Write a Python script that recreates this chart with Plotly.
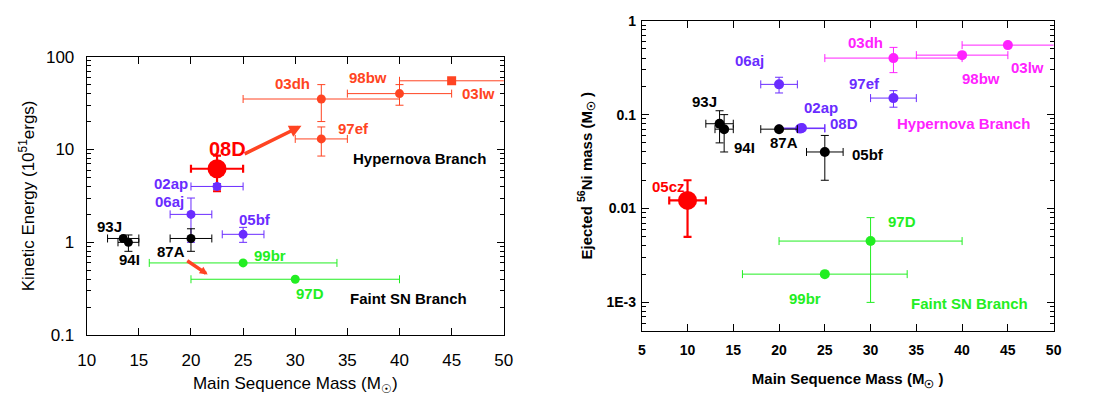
import math
import plotly.graph_objects as go

# ---------------- data: left panel (kinetic energy) ----------------
ke_names = ["03lw", "98bw", "03dh", "97ef", "08D", "02ap", "06aj", "05bf",
            "87A", "93J", "94I", "99br", "97D"]
ke_mass = [45, 40, 32.5, 32.5, 22.5, 22.5, 20, 25, 20, 13.5, 14, 25, 30]
ke_mass_lo = [40, 35, 25, 30, 20, 20, 18, 23, 18, 12, 13, 16, 20]
ke_mass_hi = [55, 45, 40, 35, 25, 25, 22, 27, 22, 15, 15, 34, 40]
ke_E = [55, 40, 35, 13, 6.2, 4.0, 2.0, 1.22, 1.1, 1.1, 1.0, 0.6, 0.4]
ke_E_lo = [55, 30, 20, 8.5, 3.55, 3.7, 1.0, 1.0, 0.8, 1.1, 0.8, 0.6, 0.4]
ke_E_hi = [55, 50, 50, 17.5, 8.6, 4.3, 3.0, 1.45, 1.4, 1.1, 1.2, 0.6, 0.4]
ke_group = ["hn", "hn", "hn", "hn", "new", "blue", "blue", "blue",
            "black", "black", "black", "faint", "faint"]

# ---------------- data: right panel (Ni mass) ----------------
ni_names = ["03lw", "98bw", "03dh", "06aj", "97ef", "02ap", "08D", "87A",
            "93J", "94I", "05bf", "05cz", "97D", "99br"]
ni_mass = [45, 40, 32.5, 20, 32.5, 22.5, 22.3, 20, 13.5, 14, 25, 10, 30, 25]
ni_mass_lo = [40, 35, 25, 18, 30, 20, 20, 18, 12, 13, 23, 8, 20, 16]
ni_mass_hi = [55, 45, 40, 22, 35, 25, 25, 22, 15, 15, 27, 12, 40, 34]
ni_M = [0.55, 0.43, 0.40, 0.21, 0.15, 0.072, 0.071, 0.07, 0.08, 0.07, 0.04, 0.0122, 0.0045, 0.002]
ni_M_lo = [0.55, 0.43, 0.28, 0.17, 0.12, 0.072, 0.071, 0.07, 0.05, 0.04, 0.02, 0.005, 0.001, 0.002]
ni_M_hi = [0.55, 0.43, 0.52, 0.25, 0.18, 0.072, 0.071, 0.07, 0.11, 0.10, 0.06, 0.02, 0.008, 0.002]
ni_group = ["mag", "mag", "mag", "blue", "blue", "blue", "blue", "black",
            "black", "black", "black", "new", "faint", "faint"]

x_ticks = [10, 15, 20, 25, 30, 35, 40, 45, 50]
x2_ticks = [5, 10, 15, 20, 25, 30, 35, 40, 45, 50]
y_ticks = [0.1, 1, 10, 100]
y_ticklabels = ["0.1", "1", "10", "100"]
y2_ticks = [0.001, 0.01, 0.1, 1]
y2_ticklabels = ["1E-3", "0.01", "0.1", "1"]

# ---------------- styles ----------------
COL = {"hn": "#ff4422", "new": "#ff0000", "blue": "#6a2cff", "black": "#000000",
       "faint": "#22ee22", "mag": "#ff22ff"}
FONT = "Liberation Sans, Arial, Helvetica, sans-serif"

fig = go.Figure()


def add_points(names, xs, xlo, xhi, ys, ylo, yhi, groups, xa, ya, big, square=()):
    for n, x, a, b, y, c, d, g in zip(names, xs, xlo, xhi, ys, ylo, yhi, groups):
        isbig = n == big
        col = COL[g]
        fig.add_trace(go.Scatter(
            x=[x], y=[y], mode="markers", xaxis=xa, yaxis=ya, showlegend=False,
            marker=dict(color=col, size=19 if isbig else (9 if xa == "x" else 10),
                        symbol="square" if n in square else "circle",
                        line=dict(width=0)),
            error_x=dict(type="data", symmetric=False, array=[b - x], arrayminus=[x - a],
                         color=col, thickness=2.2 if isbig else 1, width=4),
            error_y=dict(type="data", symmetric=False, array=[d - y], arrayminus=[y - c],
                         color=col, thickness=2.2 if isbig else 1, width=4,
                         visible=(d - c) > 0),
        ))


add_points(ke_names, ke_mass, ke_mass_lo, ke_mass_hi, ke_E, ke_E_lo, ke_E_hi, ke_group,
           "x", "y", "08D", square=("03lw",))
add_points(ni_names, ni_mass, ni_mass_lo, ni_mass_hi, ni_M, ni_M_lo, ni_M_hi, ni_group,
           "x2", "y2", "05cz")

# ---------------- labels ----------------
ke_labels = {"03dh": (29.7, 51), "98bw": (37.0, 60), "03lw": (47.6, 40), "97ef": (35.6, 16.7),
             "08D": (23.5, 10.2), "02ap": (18.1, 4.3), "06aj": (17.9, 2.75), "05bf": (26.1, 1.78),
             "93J": (12.2, 1.48), "94I": (14.1, 0.65), "87A": (18.1, 0.79), "99br": (27.6, 0.73),
             "97D": (31.4, 0.28)}
ni_labels = {"03dh": (29.4, 0.59), "98bw": (42.1, 0.24), "03lw": (47.2, 0.318),
             "06aj": (16.8, 0.38), "97ef": (29.3, 0.215), "02ap": (24.6, 0.12),
             "08D": (27.1, 0.08), "93J": (11.8, 0.137), "94I": (16.2, 0.045),
             "87A": (20.5, 0.05), "05bf": (29.7, 0.038), "05cz": (7.9, 0.0171),
             "97D": (33.4, 0.0073), "99br": (22.85, 0.0011)}

annotations = []
for n, g in zip(ke_names, ke_group):
    x, y = ke_labels[n]
    annotations.append(dict(x=x, y=math.log10(y), xref="x", yref="y", text=n, showarrow=False,
                            font=dict(family=FONT, size=20 if n == "08D" else 15,
                                      color=COL[g], weight="bold")))
for n, g in zip(ni_names, ni_group):
    x, y = ni_labels[n]
    annotations.append(dict(x=x, y=math.log10(y), xref="x2", yref="y2", text=n, showarrow=False,
                            font=dict(family=FONT, size=15, color=COL[g], weight="bold")))

annotations += [
    dict(x=41.9, y=math.log10(8.0), xref="x", yref="y", text="Hypernova Branch", showarrow=False,
         font=dict(family=FONT, size=15, color="#000000", weight="bold")),
    dict(x=40.9, y=math.log10(0.247), xref="x", yref="y", text="Faint SN Branch", showarrow=False,
         font=dict(family=FONT, size=15, color="#000000", weight="bold")),
    dict(x=40.2, y=math.log10(0.081), xref="x2", yref="y2", text="Hypernova Branch", showarrow=False,
         font=dict(family=FONT, size=15, color=COL["mag"], weight="bold")),
    dict(x=40.8, y=math.log10(0.00097), xref="x2", yref="y2", text="Faint SN Branch", showarrow=False,
         font=dict(family=FONT, size=15, color=COL["faint"], weight="bold")),
    # arrows
    dict(x=30.6, y=math.log10(18), ax=25.0, ay=math.log10(8.8), xref="x", yref="y",
         axref="x", ayref="y", text="", showarrow=True, arrowhead=2, arrowsize=0.7,
         arrowwidth=3.5, arrowcolor=COL["hn"]),
    dict(x=21.6, y=math.log10(0.45), ax=19.5, ay=math.log10(0.65), xref="x", yref="y",
         axref="x", ayref="y", text="", showarrow=True, arrowhead=2, arrowsize=0.45,
         arrowwidth=3.5, arrowcolor=COL["hn"]),
]

axis_common = dict(showgrid=False, zeroline=False, showline=True, linecolor="#000000",
                   linewidth=1, mirror="ticks", ticks="inside", tickcolor="#000000",
                   ticklen=7, tickwidth=1)

minor_left = [m * 10 ** e for e in (-1, 0, 1) for m in range(2, 10)]
minor_right = [m * 10 ** e for e in (-4, -3, -2, -1) for m in range(2, 10)
               if 5e-4 <= m * 10 ** e < 1]

fig.update_layout(
    width=1100, height=410, margin=dict(l=0, r=0, t=0, b=0),
    paper_bgcolor="white", plot_bgcolor="white",
    font=dict(family=FONT, color="#000000"),
    xaxis=dict(domain=[79 / 1100, 503 / 1100], range=[10, 50], tickvals=x_ticks,
               tickfont=dict(size=17), anchor="y", ticklabelstandoff=9,
               title=dict(text="Main Sequence Mass (M<sub>☉</sub>)", font=dict(size=17),
                          standoff=8),
               **axis_common),
    yaxis=dict(domain=[1 - 342 / 410, 1 - 50 / 410], type="log", range=[-1, 2],
               tickvals=y_ticks, ticktext=y_ticklabels, tickfont=dict(size=17), anchor="x",
               ticklabelstandoff=8,
               minor=dict(tickvals=minor_left, ticks="inside", ticklen=4,
                          tickcolor="#000000", showgrid=False),
               title=dict(text="Kinetic Energy (10<sup>51</sup>ergs)", font=dict(size=17),
                          standoff=6),
               **axis_common),
    xaxis2=dict(domain=[643.3 / 1100, 1062 / 1100], range=[5, 50], tickvals=x2_ticks,
                tickfont=dict(size=14, weight="bold"), anchor="y2", ticklabelstandoff=7,
                title=dict(text="Main Sequence Mass (M<sub>☉</sub> )",
                           font=dict(size=15, weight="bold"), standoff=16),
                **axis_common),
    yaxis2=dict(domain=[1 - 337.3 / 410, 1 - 12.3 / 410], type="log",
                range=[math.log10(5e-4), 0], tickvals=y2_ticks, ticktext=y2_ticklabels,
                tickfont=dict(size=14, weight="bold"), anchor="x2", ticklabelstandoff=2,
                minor=dict(tickvals=minor_right, ticks="inside", ticklen=4,
                           tickcolor="#000000", showgrid=False),
                title=dict(text="Ejected <sup>56</sup>Ni mass (M<sub>☉</sub> )",
                           font=dict(size=15, weight="bold"), standoff=10),
                **axis_common),
    annotations=annotations,
)

fig.write_html("out.html")
